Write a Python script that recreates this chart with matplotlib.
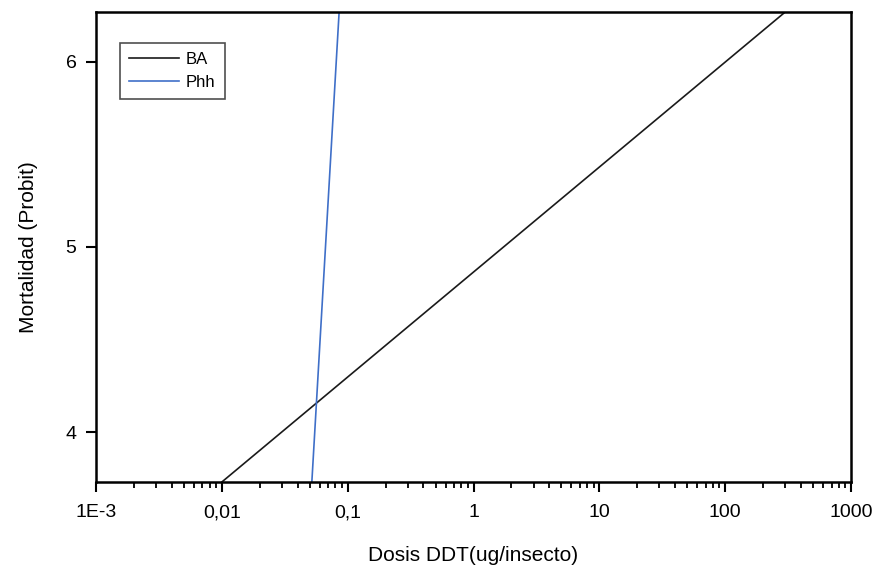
import numpy as np
import matplotlib.pyplot as plt
from matplotlib.ticker import FixedLocator, LogLocator, NullFormatter

plt.rcParams['font.family'] = ['Liberation Sans', 'DejaVu Sans']

# datos (extremos de cada recta probit)
dosis_ba = [0.01, 300]
probit_ba = [3.73, 6.27]
dosis_phh = [0.0519, 0.0855]
probit_phh = [3.73, 6.27]

xticks = [1e-3, 0.01, 0.1, 1, 10, 100, 1000]
xtick_labels = ['1E-3', '0,01', '0,1', '1', '10', '100', '1000']
yticks = [4, 5, 6]

fig = plt.figure(figsize=(8.76, 5.68), dpi=100)
ax = fig.add_axes([0.1096, 0.1514, 0.8619, 0.8275])

ax.plot(dosis_ba, probit_ba, color='#1a1a1a', lw=1.2, label='BA')
ax.plot(dosis_phh, probit_phh, color='#3f6fc8', lw=1.2, label='Phh')

ax.set_xscale('log')
ax.set_xlim(1e-3, 1000)
ax.set_ylim(3.73, 6.27)

ax.xaxis.set_major_locator(FixedLocator(xticks))
ax.set_xticklabels(xtick_labels)
ax.xaxis.set_minor_locator(LogLocator(base=10, subs=np.arange(2, 10)))
ax.xaxis.set_minor_formatter(NullFormatter())
ax.set_yticks(yticks)

ax.tick_params(axis='both', which='major', direction='out', length=7, width=1.5,
               labelsize=14, top=False, right=False)
ax.tick_params(axis='x', which='major', pad=9)
ax.tick_params(axis='y', which='major', pad=7)
ax.tick_params(axis='x', which='minor', direction='out', length=4, width=1.3, top=False)

for s in ax.spines.values():
    s.set_linewidth(1.8)

ax.set_xlabel('Dosis DDT(ug/insecto)', fontsize=15, labelpad=18)
ax.set_ylabel('Mortalidad (Probit)', fontsize=15, labelpad=20)

leg = ax.legend(loc='upper left', bbox_to_anchor=(0.032, 0.934), borderaxespad=0,
                fontsize=12, frameon=True, fancybox=False, edgecolor='#222222',
                handlelength=3.0, handletextpad=0.4, borderpad=0.55, labelspacing=0.45)
leg.get_frame().set_linewidth(1.2)

fig.savefig('out.png', dpi=100)
